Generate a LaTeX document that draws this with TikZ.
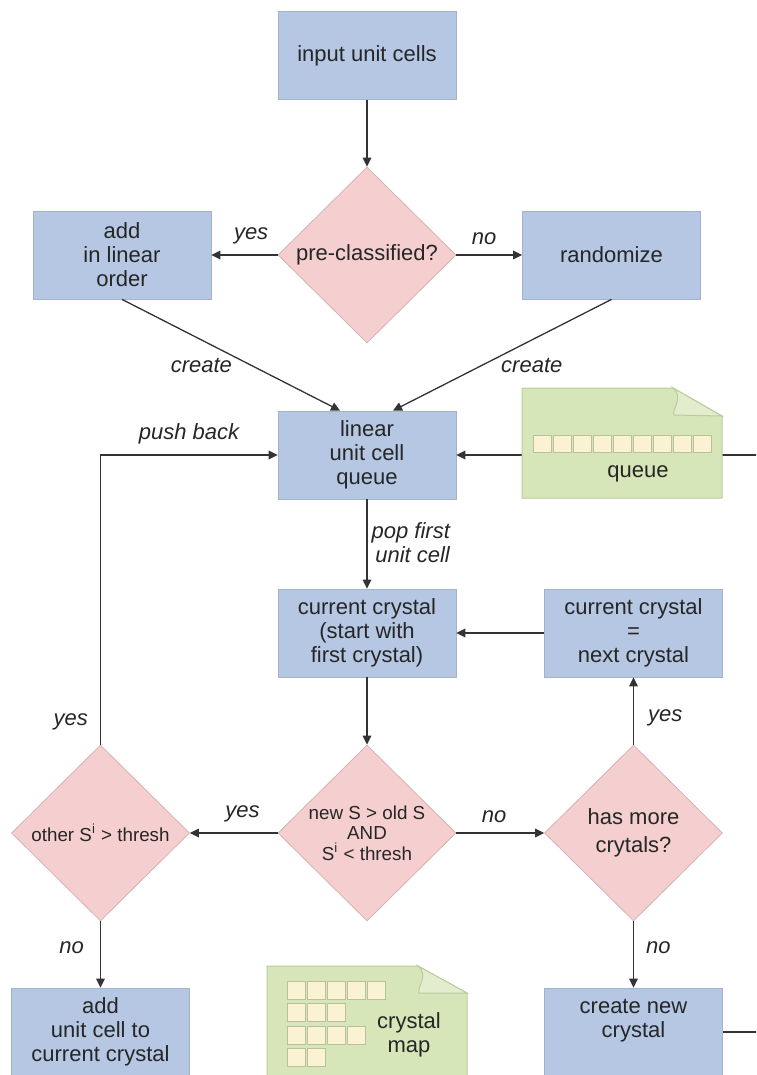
\documentclass[tikz,border=0pt]{standalone}
\usepackage{fontspec}
\setmainfont{Liberation Sans}
\usetikzlibrary{shapes.geometric,arrows.meta}
\definecolor{boxfill}{HTML}{B5C7E3}
\definecolor{boxline}{HTML}{A3B3CE}
\definecolor{decfill}{HTML}{F5CFCF}
\definecolor{decline}{HTML}{D6B2B2}
\definecolor{notefill}{HTML}{D6E6B9}
\definecolor{noteline}{HTML}{BCCB9F}
\definecolor{cellfill}{HTML}{FBF2D3}
\definecolor{cellline}{HTML}{B9C19C}
\begin{document}
\begin{tikzpicture}[x=0.5pt,y=-0.5pt,
  font=\fontsize{11}{12}\selectfont,text=black!85,
  box/.style={draw=boxline,fill=boxfill,minimum width=89pt,minimum height=44pt,
    inner sep=2pt,align=center},
  dec/.style={diamond,draw=decline,fill=decfill,minimum width=89pt,
    minimum height=88pt,inner sep=0pt,align=center},
  small/.style={font=\fontsize{9.4}{10.3}\selectfont},
  arr/.style={draw=black!80,line width=0.65pt,-{Triangle[length=4.5pt,width=4.3pt]}},
  lin/.style={draw=black!80,line width=0.65pt},
  lab/.style={font=\fontsize{11}{12}\selectfont\itshape,inner sep=1pt},
  note/.style={draw=noteline,fill=notefill,line width=0.5pt},
  cell/.style={draw=cellline,fill=cellfill,line width=0.5pt}]
  \useasboundingbox (0,0) rectangle (756,1075);
  \clip (0,0) rectangle (756,1075);

  \node[box] (In) at (367,55.5) {input unit cells};
  \node[dec] (Pre) at (367,255) {pre-classified?};
  \node[box] (Add) at (122,255) {add\\in linear\\order};
  \node[box] (Rand) at (611.5,255) {randomize};
  \node[box] (Q) at (367,455) {linear\\unit cell\\queue};
  \node[box] (Cur) at (367,633) {current crystal\\(start with\\first crystal)};
  \node[box] (Next) at (633.5,633) {current crystal\\=\\next crystal};
  \node[dec,small] (New) at (367,833) {new S > old S\\AND\\S\textsuperscript{i} < thresh};
  \node[dec,small] (Oth) at (100.5,833) {other S\textsuperscript{i} > thresh};
  \node[dec] (More) at (633.5,833) {has more\\[2pt]crytals?};
  \node[box] (AddC) at (100.5,1032) {add\\unit cell to\\current crystal};
  \node[box,text depth=14pt] (Crt) at (633.5,1032) {create new\\crystal};
  \coordinate (R1) at (760,455);
  \coordinate (R2) at (760,1032);

  \draw[arr] (In) -- (Pre);
  \draw[arr] (Pre) -- node[lab,pos=.4,above=4pt] {yes} (Add);
  \draw[arr] (Pre) -- node[lab,pos=.42,above=4pt] {no} (Rand);
  \draw[arr] (Add.south) -- node[lab,pos=.59,left=8pt] {create} ([xshift=-13.5pt]Q.north);
  \draw[arr] (Rand.south) -- node[lab,pos=.59,right=8pt] {create} ([xshift=13pt]Q.north);
  \draw[arr] (R1) -- (Q);
  \draw[arr] (Q) -- node[lab,pos=.48,right=1pt,align=right] {pop first\\unit cell} (Cur);
  \draw[arr] (Cur) -- (New);
  \draw[arr] (New) -- node[lab,pos=.4,above=4pt] {yes} (Oth);
  \draw[arr] (New) -- node[lab,pos=.43,above=4pt] {no} (More);
  \draw[arr] (More) -- node[lab,pos=.4,right=6pt] {yes} (Next);
  \draw[arr] (Next) -- (Cur);
  \draw[arr] (More) -- node[lab,pos=.4,right=5pt] {no} (Crt);
  \draw[arr] (Oth) -- node[lab,pos=.4,left=7pt] {no} (AddC);
  \draw[arr] (Oth.north) |- node[lab,pos=.04,left=5pt] {yes}
    node[lab,pos=.75,above=4pt] {push back} (Q.west);
  \draw[lin] (Crt) -- (R2);

  \path[note] (522,388) -- (673,388) -- (722,416) -- (722,498) -- (522,498) -- cycle;
  \path[note,fill=notefill!70!white] (673,388) .. controls (684,398) and (672,408) .. (674,415) -- (722,416) -- cycle;
  \foreach \i in {0,...,8}
    \draw[cell] (533+20*\i,435) rectangle ++(18,17.5);
  \node (Qn) at (638,474) {queue};

  \path[note] (267,966) -- (418,966) -- (467,993) -- (467,1085) -- (267,1085) -- cycle;
  \path[note,fill=notefill!70!white] (418,966) .. controls (429,976) and (417,986) .. (419,993) -- (467,993) -- cycle;
  \foreach \n [count=\r from 0] in {5,3,4,2}
    \foreach \i in {1,...,\n}
      \draw[cell] (267+20*\i,981+22.5*\r) rectangle ++(18,18);
  \node[align=center] (Cm) at (409,1035) {crystal\\map};
\end{tikzpicture}
\end{document}
